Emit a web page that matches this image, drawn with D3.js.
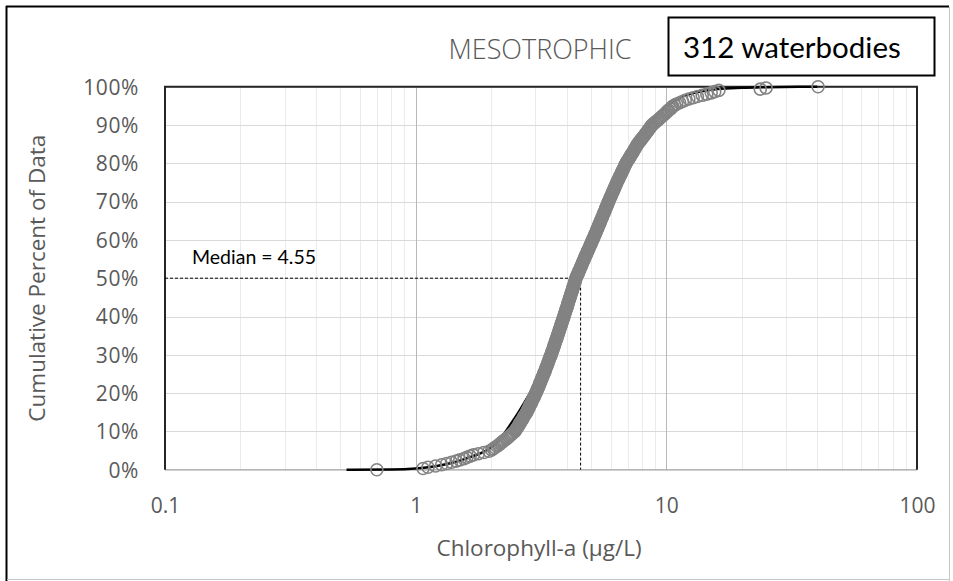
<!DOCTYPE html>
<html><head><meta charset="utf-8">
<script src="https://cdn.jsdelivr.net/npm/d3@7"></script>
<style>body{margin:0;background:#fff}svg{display:block}</style>
</head><body>
<script>
// ---- data ----
const chartTitle = "MESOTROPHIC";
const boxLabel = "312 waterbodies";
const xTitle = "Chlorophyll-a (µg/L)";
const yTitle = "Cumulative Percent of Data";
const medianValue = 4.55;
const medianLabel = "Median = 4.55";
const xTickValues = [0.1, 1, 10, 100];
const xTickLabels = ["0.1", "1", "10", "100"];
const yTickValues = [0,10,20,30,40,50,60,70,80,90,100];
const yTickLabels = ["0%","10%","20%","30%","40%","50%","60%","70%","80%","90%","100%"];
// sorted chlorophyll-a values of the 312 waterbodies (µg/L)
const chlValues = [
0.70,1.07,1.12,1.20,1.27,1.33,1.39,1.45,1.50,1.56,1.60,1.65,1.70,1.78,1.87,1.96,
2.01,2.04,2.07,2.11,2.14,2.17,2.20,2.23,2.26,2.30,2.33,2.36,2.39,2.42,2.45,2.49,
2.50,2.52,2.54,2.56,2.58,2.59,2.61,2.63,2.65,2.67,2.68,2.70,2.72,2.74,2.76,
2.78,2.79,2.81,2.82,2.84,2.85,2.87,2.89,2.90,2.92,2.93,2.95,2.97,2.98,3.00,3.01,
3.03,3.04,3.06,3.07,3.09,3.10,3.12,3.13,3.14,3.16,3.17,3.19,3.20,3.22,3.23,
3.25,3.26,3.28,3.29,3.30,3.32,3.33,3.35,3.36,3.38,3.39,3.40,3.42,3.43,3.45,3.46,
3.48,3.49,3.50,3.52,3.53,3.55,3.56,3.57,3.59,3.60,3.61,3.63,3.64,3.66,3.67,
3.68,3.70,3.71,3.73,3.74,3.75,3.77,3.78,3.80,3.81,3.82,3.84,3.85,3.87,3.88,3.90,
3.91,3.92,3.94,3.95,3.97,3.98,4.00,4.01,4.03,4.04,4.05,4.07,4.08,4.10,4.11,
4.13,4.14,4.16,4.17,4.19,4.20,4.22,4.23,4.25,4.26,4.28,4.29,4.31,4.32,4.34,4.35,
4.37,4.39,4.41,4.44,4.46,4.48,4.50,4.52,4.55,4.57,4.59,4.61,4.63,4.66,4.68,4.70,
4.72,4.75,4.77,4.80,4.82,4.84,4.87,4.89,4.92,4.94,4.97,4.99,5.02,5.04,5.07,
5.09,5.12,5.14,5.17,5.19,5.22,5.24,5.27,5.29,5.32,5.34,5.37,5.39,5.42,5.44,5.47,
5.49,5.52,5.55,5.57,5.60,5.63,5.65,5.68,5.71,5.73,5.76,5.78,5.81,5.84,5.86,
5.89,5.92,5.95,5.98,6.01,6.04,6.07,6.10,6.13,6.16,6.19,6.22,6.25,6.28,6.31,6.34,
6.38,6.41,6.45,6.48,6.52,6.55,6.59,6.62,6.66,6.70,6.73,6.77,6.80,6.84,6.87,
6.91,6.96,7.01,7.06,7.11,7.16,7.21,7.26,7.31,7.36,7.41,7.46,7.51,7.56,7.61,7.66,
7.72,7.79,7.86,7.93,8.00,8.07,8.14,8.21,8.28,8.35,8.42,8.49,8.56,8.63,8.70,
8.78,8.90,9.02,9.14,9.26,9.38,9.50,9.62,9.75,9.87,9.99,10.1,10.2,10.4,10.5,10.6,
10.8,11.0,11.3,11.6,11.9,12.3,12.8,13.3,13.9,14.5,15.1,15.6,16.2,23.7,25.0,40.3
];
// fitted cumulative curve (black line): x values and cumulative percent
const fitX   = [0.53,0.8,1.0,1.2,1.4,1.6,1.8,2.0,2.2,2.4,2.6,2.8,3.0,3.3,3.6,4.0,4.55,5.0,5.5,6.0,7.0,8.0,9.0,10,12,14,16,20,25,40];
const fitPct = [0,0.05,0.3,0.9,1.8,3.0,4.2,5.8,8.5,12,15.5,19,22.5,28,34,41,50,57,64,70,79,87,92,95,97.8,98.9,99.4,99.7,99.85,100];

// ---- layout ----
const W = 953, H = 581;
const M = {left:165, right:917, top:86.7, bottom:469.7};
const svg = d3.select("body").append("svg").attr("width", W).attr("height", H);

// outer frame
svg.append("rect").attr("x",0).attr("y",0).attr("width",W).attr("height",H).attr("fill","#fff");
svg.append("line").attr("x1",6).attr("x2",949).attr("y1",6.5).attr("y2",6.5).attr("stroke","#000").attr("stroke-width",2);
svg.append("line").attr("x1",6.5).attr("x2",6.5).attr("y1",6).attr("y2",H).attr("stroke","#000").attr("stroke-width",2);
svg.append("line").attr("x1",949.5).attr("x2",949.5).attr("y1",7).attr("y2",H).attr("stroke","#c8c8c8").attr("stroke-width",1);
svg.append("line").attr("x1",7).attr("x2",950).attr("y1",579.5).attr("y2",579.5).attr("stroke","#c8c8c8").attr("stroke-width",1);

const x = d3.scaleLog().domain([0.1,100]).range([M.left, M.right]);
const y = d3.scaleLinear().domain([0,100]).range([M.bottom, M.top]);

const grid = svg.append("g");
// minor vertical gridlines
const minor = [];
[0.1,1,10].forEach(d => { for (let k=2;k<=9;k++) minor.push(d*k); });
grid.selectAll("line.minor").data(minor).join("line")
  .attr("x1", d=>Math.round(x(d))+0.5).attr("x2", d=>Math.round(x(d))+0.5)
  .attr("y1", M.top).attr("y2", M.bottom).attr("stroke","#ebebeb").attr("stroke-width",1);
// horizontal gridlines
grid.selectAll("line.h").data(yTickValues).join("line")
  .attr("x1", M.left).attr("x2", M.right)
  .attr("y1", d=>Math.round(y(d))+0.5).attr("y2", d=>Math.round(y(d))+0.5)
  .attr("stroke","#d9d9d9").attr("stroke-width",1);
// major vertical gridlines
grid.selectAll("line.v").data([1,10]).join("line")
  .attr("x1", d=>Math.round(x(d))+0.5).attr("x2", d=>Math.round(x(d))+0.5)
  .attr("y1", M.top).attr("y2", M.bottom).attr("stroke","#b8b8b8").attr("stroke-width",1);

// plot border
svg.append("line").attr("x1",M.left).attr("x2",M.right).attr("y1",M.bottom).attr("y2",M.bottom).attr("stroke","#a6a6a6").attr("stroke-width",1);
svg.append("path").attr("d",`M${M.left},${M.bottom}V${M.top}H${M.right}V${M.bottom}`)
  .attr("fill","none").attr("stroke","#262626").attr("stroke-width",2);

// median dashed lines
svg.append("path")
  .attr("d", `M${M.left},${y(50)}H${x(medianValue)}V${M.bottom}`)
  .attr("fill","none").attr("stroke","#000").attr("stroke-width",1).attr("stroke-dasharray","3,2");

// fitted line
const fitData = fitX.map((v,i)=>[v, fitPct[i]]);
svg.append("path").datum(fitData)
  .attr("d", d3.line().x(d=>x(d[0])).y(d=>y(d[1])).curve(d3.curveMonotoneX))
  .attr("fill","none").attr("stroke","#000").attr("stroke-width",2.5);

// data markers (cumulative percent from rank)
const n = chlValues.length;
const pts = chlValues.map((v,i)=>[v, i/(n-1)*100]);
svg.append("g").selectAll("circle").data(pts).join("circle")
  .attr("cx", d=>x(d[0])).attr("cy", d=>y(d[1])).attr("r", 6)
  .attr("fill","none").attr("stroke","#838383").attr("stroke-width",1.6);

// axis labels
const tickFont = "'Open Sans', 'Noto Sans', sans-serif";
const axX = d3.axisBottom(x).tickValues(xTickValues).tickFormat((d,i)=>xTickLabels[i]).tickSize(0).tickPadding(0);
const gx = svg.append("g").attr("transform",`translate(0,${M.bottom})`).call(axX);
gx.select(".domain").remove();
gx.selectAll("text").attr("y", 43).attr("dy",0).attr("fill","#595959")
  .style("font-family",tickFont).style("font-size","21px");

const axY = d3.axisLeft(y).tickValues(yTickValues).tickFormat((d,i)=>yTickLabels[i]).tickSize(0).tickPadding(0);
const gy = svg.append("g").attr("transform",`translate(${M.left},0)`).call(axY);
gy.select(".domain").remove();
gy.selectAll("text").attr("x", -26).attr("dy","0.35em").attr("fill","#595959")
  .style("font-family",tickFont).style("font-size","21px").style("letter-spacing","0.6px");

// titles
svg.append("text").attr("x",540).attr("y",59).attr("text-anchor","middle")
  .attr("fill","#595959").style("font-family",tickFont).style("font-size","27px").style("font-weight",300)
  .text(chartTitle);
svg.append("text").attr("x",539).attr("y",556).attr("text-anchor","middle")
  .attr("fill","#595959").style("font-family",tickFont).style("font-size","22.5px")
  .text(xTitle);
svg.append("text").attr("transform",`translate(45,${(M.top+M.bottom)/2}) rotate(-90)`).attr("text-anchor","middle")
  .attr("fill","#595959").style("font-family",tickFont).style("font-size","22.5px")
  .text(yTitle);

// median label
svg.append("text").attr("x",192).attr("y",264)
  .attr("fill","#000").style("font-family","Lato, 'Open Sans', sans-serif").style("font-size","19.5px")
  .text(medianLabel);

// count box
svg.append("rect").attr("x",668.5).attr("y",17.5).attr("width",266).attr("height",58)
  .attr("fill","#fff").attr("stroke","#000").attr("stroke-width",2);
svg.append("text").attr("x",683).attr("y",58)
  .attr("fill","#000").style("font-family","Lato, 'Open Sans', sans-serif").style("font-size","29.5px")
  .text(boxLabel);
</script>
</body></html>
